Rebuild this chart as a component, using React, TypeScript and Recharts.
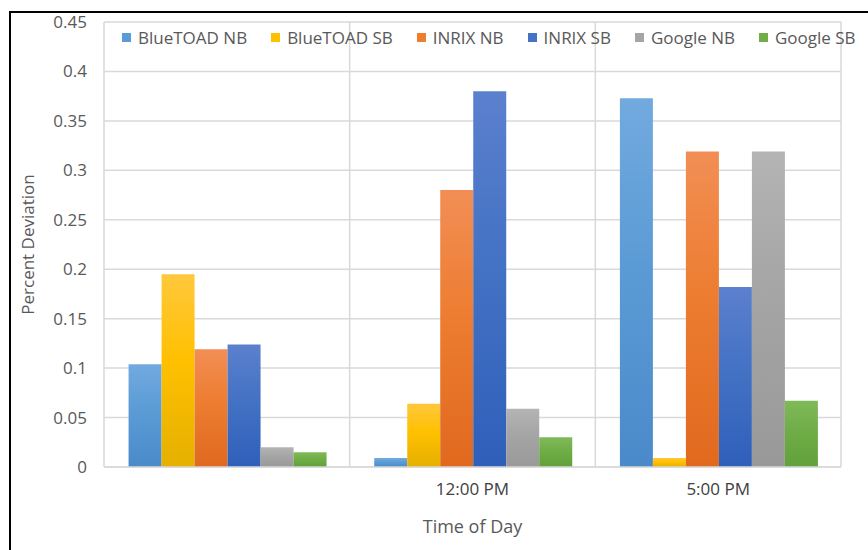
import React from 'react';
import { BarChart, Bar, XAxis, YAxis, CartesianGrid } from 'recharts';

const categories = ['', '12:00 PM', '5:00 PM'];
const seriesNames = ['BlueTOAD NB', 'BlueTOAD SB', 'INRIX NB', 'INRIX SB', 'Google NB', 'Google SB'];
const blueToadNB = [0.104, 0.009, 0.373];
const blueToadSB = [0.195, 0.064, 0.009];
const inrixNB = [0.119, 0.28, 0.319];
const inrixSB = [0.124, 0.38, 0.182];
const googleNB = [0.02, 0.059, 0.319];
const googleSB = [0.015, 0.03, 0.067];
const yTicks = [0, 0.05, 0.1, 0.15, 0.2, 0.25, 0.3, 0.35, 0.4, 0.45];

// base colour, lighter top stop, darker bottom stop
const COLORS = ['#5B9BD5', '#FFC000', '#ED7D31', '#4472C4', '#A5A5A5', '#70AD47'];
const TOP_COLORS = ['#72AADF', '#FFC83D', '#F28E55', '#5B80CE', '#B4B4B4', '#7FBA58'];
const BOTTOM_COLORS = ['#4A8ACA', '#E5B000', '#E0691E', '#2F5FBA', '#999999', '#61A03A'];

const seriesValues = [blueToadNB, blueToadSB, inrixNB, inrixSB, googleNB, googleSB];
const keys = ['btNB', 'btSB', 'inNB', 'inSB', 'goNB', 'goSB'];

const data = categories.map((name, i) => {
  const row: Record<string, string | number> = { name };
  keys.forEach((k, s) => {
    row[k] = seriesValues[s][i];
  });
  return row;
});

const FONT = '"Open Sans", sans-serif';
const TEXT = '#595959';

// vertical grid lines at the category band edges
const bandEdges = ({ offset }: any) => {
  const n = categories.length;
  return Array.from({ length: n + 1 }, (_, i) => offset.left + (offset.width * i) / n);
};

const App = () => {
  return (
    <div style={{ position: 'absolute', left: 0, top: 0, width: 868, height: 550, background: '#fff', fontFamily: FONT }}>
      <div
        style={{
          position: 'absolute',
          left: 9,
          top: 11,
          right: -4,
          bottom: -4,
          borderTop: '2px solid #000',
          borderLeft: '2px solid #000',
        }}
      />
      <BarChart
        width={868}
        height={550}
        data={data}
        margin={{ top: 22, right: 27, left: 0, bottom: 13 }}
        barCategoryGap="10%"
        barGap={0}
        style={{ position: 'absolute', left: 0, top: 0 }}
      >
        <defs>
          {keys.map((k, i) => (
            <linearGradient key={k} id={`grad-${k}`} x1="0" y1="0" x2="0" y2="1">
              <stop offset="0%" stopColor={TOP_COLORS[i]} />
              <stop offset="45%" stopColor={COLORS[i]} />
              <stop offset="100%" stopColor={BOTTOM_COLORS[i]} />
            </linearGradient>
          ))}
        </defs>
        <CartesianGrid
          stroke="#D9D9D9"
          strokeWidth={1.5}
          verticalCoordinatesGenerator={bandEdges}
        />
        <XAxis
          dataKey="name"
          height={70}
          axisLine={{ stroke: '#D9D9D9', strokeWidth: 1.5 }}
          tickLine={false}
          tickSize={0}
          tickMargin={16}
          tick={{ fill: '#404040', fontSize: 17, fontFamily: FONT }}
          label={{
            value: 'Time of Day',
            position: 'insideBottom',
            offset: 4,
            fill: TEXT,
            fontSize: 18,
            fontFamily: FONT,
          }}
        />
        <YAxis
          width={104}
          domain={[0, 0.45]}
          ticks={yTicks}
          interval={0}
          axisLine={false}
          tickLine={false}
          tickSize={0}
          tickMargin={17}
          tick={{ fill: TEXT, fontSize: 17, fontFamily: FONT }}
          label={{
            value: 'Percent Deviation',
            angle: -90,
            position: 'insideLeft',
            offset: 28,
            fill: TEXT,
            fontSize: 17,
            fontFamily: FONT,
            style: { textAnchor: 'middle' },
          }}
        />
        {keys.map((k, i) => (
          <Bar key={k} dataKey={k} name={seriesNames[i]} fill={`url(#grad-${k})`} isAnimationActive={false} />
        ))}
      </BarChart>
      <div
        style={{
          position: 'absolute',
          left: 122,
          top: 26,
          display: 'flex',
          alignItems: 'center',
          fontSize: 17,
          color: TEXT,
          whiteSpace: 'nowrap',
        }}
      >
        {seriesNames.map((n, i) => (
          <div key={n} style={{ display: 'flex', alignItems: 'center', marginRight: 24 }}>
            <span style={{ width: 9, height: 9, background: COLORS[i], marginRight: 7, display: 'inline-block' }} />
            <span>{n}</span>
          </div>
        ))}
      </div>
    </div>
  );
};

export default App;
